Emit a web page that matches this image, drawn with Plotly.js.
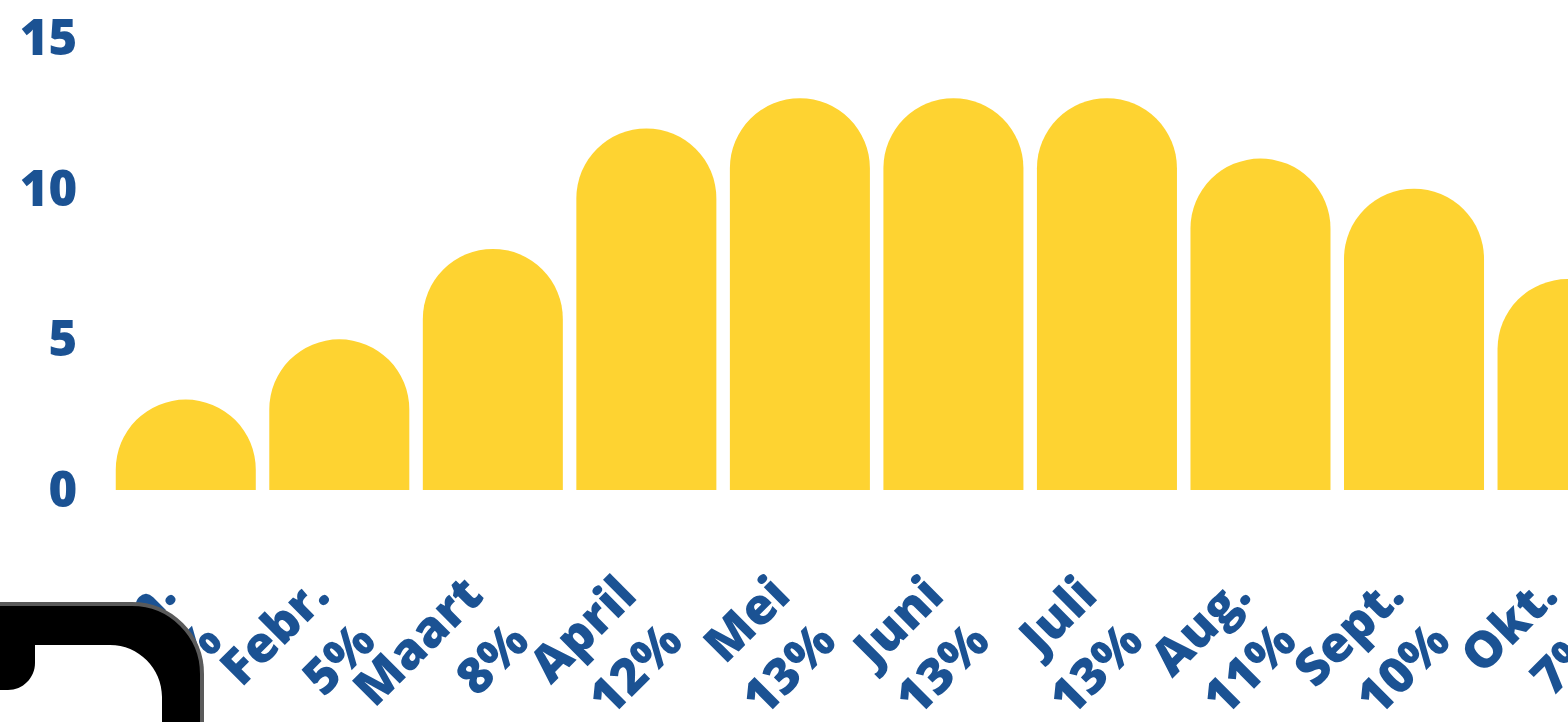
<!DOCTYPE html>
<html>
<head>
<meta charset="utf-8">
<script src="https://cdn.plot.ly/plotly-3.0.1.min.js"></script>
<style>
  html, body { margin: 0; padding: 0; background: #ffffff; overflow: hidden; }
  #chart { width: 1568px; height: 722px; }
</style>
</head>
<body>
<div id="chart"></div>
<script>
// ---- data ----
const months = ["Jan.", "Febr.", "Maart", "April", "Mei", "Juni", "Juli", "Aug.", "Sept.", "Okt."];
const values = [3, 5, 8, 12, 13, 13, 13, 11, 10, 7];
const yTicks = [0, 5, 10, 15];

const tickText = months.map((m, i) => m + "<br>" + values[i] + "%");

const W = 1568, H = 722;
const M = { l: 109, r: 0, t: 38, b: 232 };
const plotW = W - M.l - M.r, plotH = H - M.t - M.b;
const px = v => (v - M.l) / plotW;
const py = v => (H - M.b - v) / plotH;

// decorative corner overlay (pixel path converted to paper coords)
const k = 0.5523;
function pathFrom(cmds) {
  return cmds.map(c => {
    const t = c[0];
    const pts = c.slice(1);
    let s = t;
    for (let i = 0; i < pts.length; i += 2) {
      s += " " + px(pts[i]).toFixed(5) + "," + py(pts[i + 1]).toFixed(5);
    }
    return s;
  }).join(" ");
}
const outerPath = pathFrom([
  ["M", -10, 604], ["L", 132, 604],
  ["C", 132 + 70 * k, 604, 202, 674 - 70 * k, 202, 674],
  ["L", 202, 740], ["L", -10, 740]
]) + " Z";
const blackPath = pathFrom([
  ["M", -10, 604], ["L", 132, 604],
  ["C", 132 + 70 * k, 604, 202, 674 - 70 * k, 202, 674],
  ["L", 202, 740], ["L", 162, 740], ["L", 162, 697],
  ["C", 162, 697 - 52 * k, 110 + 52 * k, 645, 110, 645],
  ["L", 35, 645], ["L", 35, 663],
  ["C", 35, 663 + 27 * k, 8 + 27 * k, 690, 8, 690],
  ["L", -10, 690]
]) + " Z";
const greyPath = pathFrom([
  ["M", -10, 604], ["L", 132, 604],
  ["C", 132 + 70 * k, 604, 202, 674 - 70 * k, 202, 674],
  ["L", 202, 740]
]);

const trace = {
  type: "bar",
  x: months.map((_, i) => i),
  y: values,
  marker: { color: "#FED331", line: { width: 0 } },
  hoverinfo: "skip"
};

const layout = {
  width: W, height: H,
  margin: M,
  paper_bgcolor: "#ffffff",
  plot_bgcolor: "#ffffff",
  showlegend: false,
  bargap: 0.088,
  barcornerradius: "50%",
  xaxis: {
    range: [-0.5, 9.003],
    tickmode: "array",
    tickvals: months.map((_, i) => i),
    ticktext: tickText,
    tickangle: -45,
    ticks: "outside",
    ticklen: 54,
    ticklabelshift: -25,
    ticklabeloverflow: "allow",
    tickcolor: "rgba(0,0,0,0)",
    showgrid: false, zeroline: false, showline: false,
    tickfont: { family: "Open Sans", size: 50, color: "#1B5293", weight: 800 },
    fixedrange: true
  },
  yaxis: {
    range: [0, 15],
    tickmode: "array",
    tickvals: yTicks,
    ticks: "outside",
    ticklen: 21,
    tickcolor: "rgba(0,0,0,0)",
    showgrid: false, zeroline: false, showline: false,
    tickfont: { family: "Open Sans", size: 49, color: "#1B5293", weight: 800 },
    fixedrange: true
  },
  shapes: [
    { type: "path", xref: "paper", yref: "paper", path: outerPath, fillcolor: "#ffffff", line: { width: 0 }, layer: "above" },
    { type: "path", xref: "paper", yref: "paper", path: blackPath, fillcolor: "#000000", line: { width: 0 }, layer: "above" },
    { type: "path", xref: "paper", yref: "paper", path: greyPath, fillcolor: "rgba(0,0,0,0)", line: { color: "#5a5a5a", width: 4 }, layer: "above" }
  ]
};

Plotly.newPlot("chart", [trace], layout, { staticPlot: true, displayModeBar: false });
</script>
</body>
</html>
